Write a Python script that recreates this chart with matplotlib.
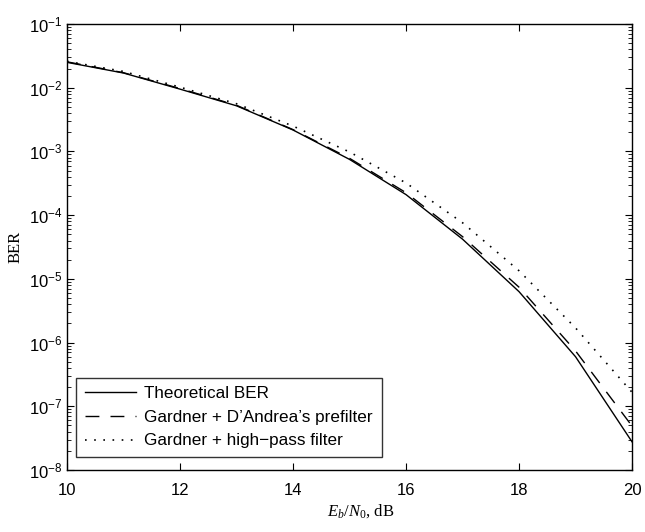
import matplotlib
matplotlib.use("Agg")
import matplotlib.pyplot as plt
from matplotlib.ticker import LogLocator, NullFormatter, MultipleLocator

plt.rcParams['font.family'] = ['Liberation Sans', 'DejaVu Sans']
plt.rcParams['mathtext.fontset'] = 'custom'
plt.rcParams['mathtext.rm'] = 'Liberation Sans'
plt.rcParams['mathtext.it'] = 'Liberation Serif:italic'
plt.rcParams['mathtext.sf'] = 'Liberation Serif'

# Eb/N0 in dB
ebn0_db = [10, 11, 12, 13, 14, 15, 16, 17, 18, 19, 20]

# BER curves
ber_theory = [2.5e-2, 1.7e-2, 9.5e-3, 5.2e-3, 2.17e-3, 7.5e-4, 2.1e-4, 4.2e-5, 6.3e-6, 6.0e-7, 2.77e-8]
ber_dandrea = [2.55e-2, 1.72e-2, 9.7e-3, 5.3e-3, 2.2e-3, 7.8e-4, 2.25e-4, 4.6e-5, 7.4e-6, 7.4e-7, 4.9e-8]
ber_highpass = [2.6e-2, 1.8e-2, 1.02e-2, 5.6e-3, 2.5e-3, 9.8e-4, 3.2e-4, 7.6e-5, 1.34e-5, 1.7e-6, 1.66e-7]

fig = plt.figure(figsize=(6.45, 5.32), dpi=100)
ax = fig.add_axes([0.1039, 0.1165, 0.876, 0.8384])

ax.semilogy(ebn0_db, ber_theory, color='black', linestyle='-', linewidth=1.0, label='Theoretical BER')
ax.semilogy(ebn0_db, ber_dandrea, color='black', linestyle=(0, (10, 8)), linewidth=1.0,
            label="Gardner + D\u2019Andrea\u2019s prefilter")
ax.semilogy(ebn0_db, ber_highpass, color='black', linestyle=(0, (1, 4.5)), linewidth=1.2,
            label='Gardner + high\u2212pass filter')

ax.set_xlim(10, 20)
ax.set_ylim(1e-8, 1e-1)
ax.xaxis.set_major_locator(MultipleLocator(2))
ax.yaxis.set_major_locator(LogLocator(base=10, numticks=20))
ax.yaxis.set_minor_locator(LogLocator(base=10, subs=range(2, 10), numticks=20))
ax.yaxis.set_minor_formatter(NullFormatter())

ax.tick_params(which='both', direction='in', top=True, right=True, labelsize=12)
ax.tick_params(which='major', length=5, width=0.8)
ax.tick_params(which='minor', length=3, width=0.6)
ax.tick_params(axis='x', which='major', pad=9)
for s in ax.spines.values():
    s.set_linewidth(1.0)

ax.set_xlabel(r'$E_b\mathsf{/}N_{\mathsf{0}}$, dB', fontsize=12, family='Liberation Serif')
ax.set_ylabel('BER', fontsize=12, family='Liberation Serif', labelpad=4)
ax.xaxis.set_label_coords(0.52, -0.072)

leg = ax.legend(loc='lower left', bbox_to_anchor=(9 / 565, 13 / 446), borderaxespad=0,
                fontsize=12.3, handlelength=3.0, handletextpad=0.5, frameon=True, fancybox=False,
                edgecolor='black', labelspacing=0.5, borderpad=0.5)
leg.get_frame().set_linewidth(1.0)

fig.savefig('out.png', dpi=100)
